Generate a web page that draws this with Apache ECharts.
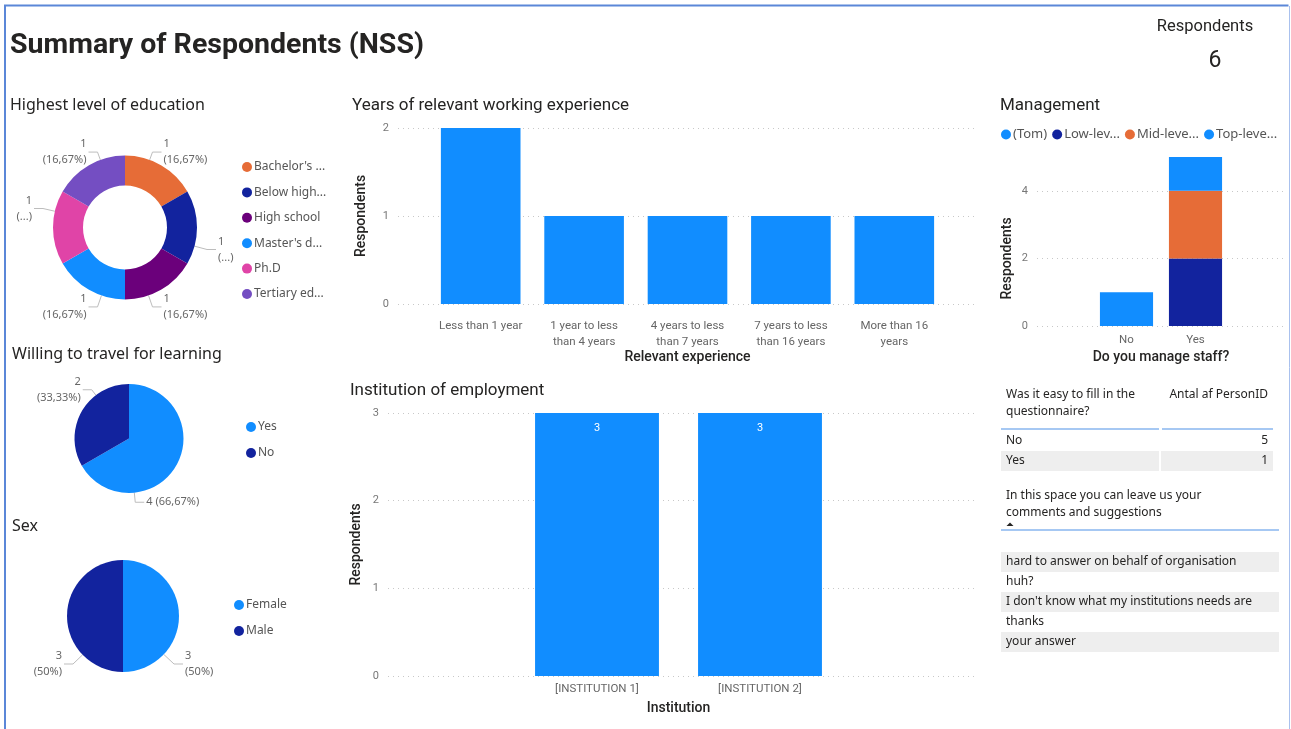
<!DOCTYPE html>
<html>
<head>
<meta charset="utf-8">
<script src="https://cdn.jsdelivr.net/npm/echarts@6/dist/echarts.min.js"></script>
<style>
html,body{margin:0;padding:0;background:#fff;}
#main{width:1291px;height:729px;}
</style>
</head>
<body>
<div id="main"></div>
<script>
// ---- data ----
const educationLevels = ["Bachelor's degree", "Below high school", "High school", "Master's degree", "Ph.D", "Tertiary education"];
const educationCounts = [1, 1, 1, 1, 1, 1];

const travelAnswers = ["Yes", "No"];
const travelCounts = [4, 2];

const sexCategories = ["Female", "Male"];
const sexCounts = [3, 3];

const experienceBands = ["Less than 1 year", "1 year to less\nthan 4 years", "4 years to less\nthan 7 years", "7 years to less\nthan 16 years", "More than 16\nyears"];
const experienceCounts = [2, 1, 1, 1, 1];
const experienceTicks = [0, 1, 2];

const institutions = ["[INSTITUTION 1]", "[INSTITUTION 2]"];
const institutionCounts = [3, 3];
const institutionTicks = [0, 1, 2, 3];

const manageStaffAnswers = ["No", "Yes"];
const managementLevels = ["(Tom)", "Low-level manager", "Mid-level manager", "Top-level manager"];
// respondents per management level, for [No, Yes]
const tomCounts = [1, 0];
const lowLevelCounts = [0, 2];
const midLevelCounts = [0, 2];
const topLevelCounts = [0, 1];
const managementTicks = [0, 2, 4];

const easyAnswers = ["No", "Yes"];
const easyCounts = [5, 1];

const comments = [
  "hard to answer on behalf of organisation",
  "huh?",
  "I don't know what my institutions needs are",
  "thanks",
  "your answer"
];

// ---- styling ----
const C = {
  lightBlue: '#118DFF', darkBlue: '#12239E', orange: '#E66C37',
  purple: '#6B007B', pink: '#E044A7', violet: '#744EC2',
  text: '#252423', label: '#666666', grid: '#c8c8c8'
};
const educationColors = [C.orange, C.darkBlue, C.purple, C.lightBlue, C.pink, C.violet];
const SEGOE = "'Noto Sans', 'Open Sans', sans-serif";
const DIN = "Roboto, 'Noto Sans', sans-serif";

// pie geometry
const eduPie = { cx: 125, cy: 227.5, r0: 42, r: 72 };
const travelPie = { cx: 129, cy: 438.5, r0: 0, r: 54.5 };
const sexPie = { cx: 123, cy: 616, r0: 0, r: 56 };

// nudges for the pie data labels, per slice [dx, dy]
const eduLabelNudge = [[-15, -7], [0, 22], [-15, 11], [15, 11], [0, -19], [15, -7]];
const travelLabelNudge = [[-50, 33], [19, -18]];
const sexLabelNudge = [[-15, 48], [16, 48]];

const sum = a => a.reduce((s, v) => s + v, 0);
const pct = (v, total) => String(+(v / total * 100).toFixed(2)).replace('.', ',') + '%';

// ---- helpers ----
function tickAxis(ticks, gridIndex, extra) {
  return Object.assign({
    type: 'value', gridIndex,
    min: ticks[0], max: ticks[ticks.length - 1], interval: ticks[1] - ticks[0],
    axisLine: { show: false }, axisTick: { show: false },
    axisLabel: { color: '#777', fontSize: 11, fontFamily: DIN, margin: 9 },
    splitLine: { show: true, lineStyle: { color: C.grid, type: [1, 4], width: 1 } }
  }, extra || {});
}
function hiddenValueAxis(gridIndex, max) {
  return { type: 'value', gridIndex, min: 0, max, show: false, splitLine: { show: false } };
}
function axisName(text, gap) {
  return {
    name: text, nameLocation: 'middle', nameGap: gap,
    nameTextStyle: { color: C.text, fontSize: 14, fontFamily: DIN, fontWeight: 500 }
  };
}

// move a pie label and redraw its leader: radial stub from the rim, then flat into the text
function leader(nudges, geo) {
  return p => {
    const [dx, dy] = nudges[p.dataIndex];
    const r = p.labelRect;
    const x = r.x + dx, y = r.y + dy;
    const right = x + r.width / 2 > geo.cx;
    const endX = right ? x - 2 : x + r.width + 2;
    const endY = y + r.height / 2;
    const bendX = right ? endX - 9 : endX + 9;
    const ang = Math.atan2(endY - geo.cy, bendX - geo.cx);
    const sx = geo.cx + geo.r * Math.cos(ang), sy = geo.cy + geo.r * Math.sin(ang);
    return { dx, dy, labelLinePoints: [[sx, sy], [bendX, endY], [endX, endY]] };
  };
}

// pie label: value + share, wrapped unless a single line is requested
function pieLabeller(values, oneLineIndex) {
  const total = sum(values);
  return p => p.value + (p.dataIndex === oneLineIndex ? ' ' : '\n') + '(' + pct(p.value, total) + ')';
}

const pieLabelStyle = { show: true, position: 'outside', color: C.label, fontSize: 11, lineHeight: 16, fontFamily: SEGOE };
const pieLabelLine = { show: true, length: 7, length2: 9, lineStyle: { color: '#bdbdbd', width: 1 } };

// education ring: labels sitting at the far left/right are shortened
const eduTotal = sum(educationCounts);
function eduLabel(params) {
  let before = 0;
  for (let i = 0; i < params.dataIndex; i++) before += educationCounts[i];
  const mid = 90 - (before + params.value / 2) / eduTotal * 360;
  const side = Math.abs(Math.cos(mid * Math.PI / 180));
  return params.value + '\n' + (side > 0.95 ? '(...)' : '(' + pct(params.value, eduTotal) + ')');
}

function pieSeries(name, geo, names, values, colors, formatter, nudges) {
  return {
    type: 'pie', name, center: [geo.cx, geo.cy], radius: [geo.r0, geo.r],
    startAngle: 90, clockwise: true, silent: true, avoidLabelOverlap: false,
    data: names.map((n, i) => ({ name: n, value: values[i], itemStyle: { color: colors[i] } })),
    label: Object.assign({}, pieLabelStyle, { formatter }),
    labelLine: pieLabelLine,
    labelLayout: leader(nudges, geo)
  };
}

const option = {
  animation: false,
  backgroundColor: '#ffffff',
  textStyle: { fontFamily: SEGOE },
  grid: [
    { left: 398, top: 128, width: 579, height: 176 },   // 0 experience gridlines
    { left: 429, top: 128, width: 517, height: 176 },   // 1 experience bars
    { left: 388, top: 413, width: 590, height: 263 },   // 2 institution gridlines
    { left: 515.5, top: 413, width: 326, height: 263 }, // 3 institution bars
    { left: 1037, top: 191, width: 250, height: 135 },  // 4 management gridlines
    { left: 1092, top: 157, width: 138, height: 169 }   // 5 management bars
  ],
  xAxis: [
    { type: 'value', gridIndex: 0, show: false },
    Object.assign({
      type: 'category', gridIndex: 1, data: experienceBands,
      axisLine: { show: false }, axisTick: { show: false },
      axisLabel: { color: C.label, fontSize: 11.5, fontFamily: DIN, margin: 14, lineHeight: 16, interval: 0 }
    }, axisName('Relevant experience', 46)),
    { type: 'value', gridIndex: 2, show: false },
    Object.assign({
      type: 'category', gridIndex: 3, data: institutions,
      axisLine: { show: false }, axisTick: { show: false },
      axisLabel: { color: C.label, fontSize: 11.5, fontFamily: DIN, margin: 7, interval: 0 }
    }, axisName('Institution', 25)),
    { type: 'value', gridIndex: 4, show: false },
    Object.assign({
      type: 'category', gridIndex: 5, data: manageStaffAnswers,
      axisLine: { show: false }, axisTick: { show: false },
      axisLabel: { color: C.label, fontSize: 11.5, fontFamily: DIN, margin: 8, interval: 0 }
    }, axisName('Do you manage staff?', 24))
  ],
  yAxis: [
    tickAxis(experienceTicks, 0, axisName('Respondents', 30)),
    hiddenValueAxis(1, experienceTicks[experienceTicks.length - 1]),
    tickAxis(institutionTicks, 2, axisName('Respondents', 25)),
    hiddenValueAxis(3, institutionTicks[institutionTicks.length - 1]),
    tickAxis(managementTicks, 4, axisName('Respondents', 23)),
    hiddenValueAxis(5, 5)
  ],
  legend: [
    {
      orient: 'vertical', left: 237, top: 156, itemGap: 13.4, itemWidth: 10, itemHeight: 10,
      icon: 'circle', data: educationLevels, selectedMode: false,
      textStyle: { color: '#555', fontSize: 12, fontFamily: SEGOE, width: 74, overflow: 'truncate', ellipsis: '...', padding: [0, 0, 0, -3] }
    },
    {
      orient: 'vertical', left: 241, top: 416, itemGap: 14, itemWidth: 10, itemHeight: 10,
      icon: 'circle', data: travelAnswers, selectedMode: false,
      textStyle: { color: '#555', fontSize: 12, fontFamily: SEGOE, padding: [0, 0, 0, -3] }
    },
    {
      orient: 'vertical', left: 229, top: 594, itemGap: 14, itemWidth: 10, itemHeight: 10,
      icon: 'circle', data: sexCategories, selectedMode: false,
      textStyle: { color: '#555', fontSize: 12, fontFamily: SEGOE, padding: [0, 0, 0, -3] }
    },
    {
      orient: 'horizontal', left: 996, top: 123, itemGap: 5, itemWidth: 10, itemHeight: 10,
      icon: 'circle', data: managementLevels, selectedMode: false,
      textStyle: { color: '#555', fontSize: 13, fontFamily: SEGOE, width: 64, overflow: 'truncate', ellipsis: '...', padding: [0, 0, 0, -3] }
    }
  ],
  series: [
    pieSeries('education', eduPie, educationLevels, educationCounts, educationColors, eduLabel, eduLabelNudge),
    pieSeries('travel', travelPie, travelAnswers, travelCounts, [C.lightBlue, C.darkBlue], pieLabeller(travelCounts, 0), travelLabelNudge),
    pieSeries('sex', sexPie, sexCategories, sexCounts, [C.lightBlue, C.darkBlue], pieLabeller(sexCounts, -1), sexLabelNudge),
    {
      type: 'bar', xAxisIndex: 1, yAxisIndex: 1, data: experienceCounts,
      barCategoryGap: '23%', silent: true, itemStyle: { color: C.lightBlue }
    },
    {
      type: 'bar', xAxisIndex: 3, yAxisIndex: 3, data: institutionCounts,
      barCategoryGap: '24%', silent: true, itemStyle: { color: C.lightBlue },
      label: { show: true, position: 'insideTop', distance: 10, color: '#ffffff', fontSize: 11, fontFamily: DIN }
    },
    { type: 'bar', name: managementLevels[0], stack: 'm', xAxisIndex: 5, yAxisIndex: 5, data: tomCounts, barCategoryGap: '23%', silent: true, itemStyle: { color: C.lightBlue } },
    { type: 'bar', name: managementLevels[1], stack: 'm', xAxisIndex: 5, yAxisIndex: 5, data: lowLevelCounts, barCategoryGap: '23%', silent: true, itemStyle: { color: C.darkBlue } },
    { type: 'bar', name: managementLevels[2], stack: 'm', xAxisIndex: 5, yAxisIndex: 5, data: midLevelCounts, barCategoryGap: '23%', silent: true, itemStyle: { color: C.orange } },
    { type: 'bar', name: managementLevels[3], stack: 'm', xAxisIndex: 5, yAxisIndex: 5, data: topLevelCounts, barCategoryGap: '23%', silent: true, itemStyle: { color: C.lightBlue } }
  ],
  graphic: []
};

// ---- page furniture: frame, headings, card, tables ----
const G = option.graphic;
function txt(x, y, text, style) {
  G.push({ type: 'text', x, y, silent: true, style: Object.assign({
    text, fill: C.text, fontSize: 16, fontFamily: SEGOE, textVerticalAlign: 'middle'
  }, style || {}) });
}
function rect(x, y, w, h, fill) {
  G.push({ type: 'rect', silent: true, shape: { x, y, width: w, height: h }, style: { fill } });
}
function hline(x1, x2, y, stroke, w) {
  G.push({ type: 'line', silent: true, shape: { x1, y1: y, x2, y2: y }, style: { stroke, lineWidth: w } });
}

// frame
G.push({ type: 'polyline', silent: true, shape: { points: [[5, 729], [5, 5.5], [1288.5, 5.5]] }, style: { stroke: '#5b87d8', lineWidth: 2, fill: null } });
G.push({ type: 'line', silent: true, shape: { x1: 1289.5, y1: 6, x2: 1289.5, y2: 729 }, style: { stroke: '#a9c1ee', lineWidth: 1 } });

// report heading and section headings
txt(10, 46, 'Summary of Respondents (NSS)', { fontSize: 28.5, fontWeight: 'bold', fontFamily: DIN });
txt(10, 105, 'Highest level of education');
txt(12, 354, 'Willing to travel for learning');
txt(12, 526, 'Sex');
txt(352, 106, 'Years of relevant working experience', { fontFamily: DIN, fontSize: 17 });
txt(350, 391, 'Institution of employment', { fontFamily: DIN, fontSize: 17 });
txt(1000, 106, 'Management', { fontFamily: DIN, fontSize: 17 });

// respondents card
txt(1205, 27, 'Respondents', { textAlign: 'center', fontSize: 16.5, fontFamily: DIN });
txt(1215, 61, String(sum(sexCounts)), { textAlign: 'center', fontSize: 23, fontFamily: DIN });

// questionnaire table
const T = { fontSize: 12, fontFamily: SEGOE, fill: C.text };
txt(1006, 395, 'Was it easy to fill in the', T);
txt(1006, 412, 'questionnaire?', T);
txt(1268, 395, 'Antal af PersonID', Object.assign({ textAlign: 'right' }, T));
hline(1001, 1159, 429, '#a6c8f3', 2);
hline(1162, 1273, 429, '#a6c8f3', 2);
easyAnswers.forEach((a, i) => {
  const y = 441 + i * 20;
  if (i % 2 === 1) { rect(1001, y - 10, 158, 20, '#eeeeee'); rect(1161, y - 10, 112, 20, '#eeeeee'); }
  txt(1006, y, a, T);
  txt(1268, y, String(easyCounts[i]), Object.assign({ textAlign: 'right' }, T));
});

// comments table
txt(1006, 496, 'In this space you can leave us your', T);
txt(1006, 513, 'comments and suggestions', T);
G.push({ type: 'polygon', silent: true, shape: { points: [[1006.5, 526], [1010, 522.5], [1013.5, 526]] }, style: { fill: '#252423' } });
hline(1001, 1279, 530, '#a6c8f3', 2);
comments.forEach((c, i) => {
  const y = 562 + i * 20;
  if (i % 2 === 0) rect(1001, y - 10, 278, 20, '#eeeeee');
  txt(1006, y, c, T);
});

const chart = echarts.init(document.getElementById('main'), null, { renderer: 'canvas' });
chart.setOption(option);
</script>
</body>
</html>
